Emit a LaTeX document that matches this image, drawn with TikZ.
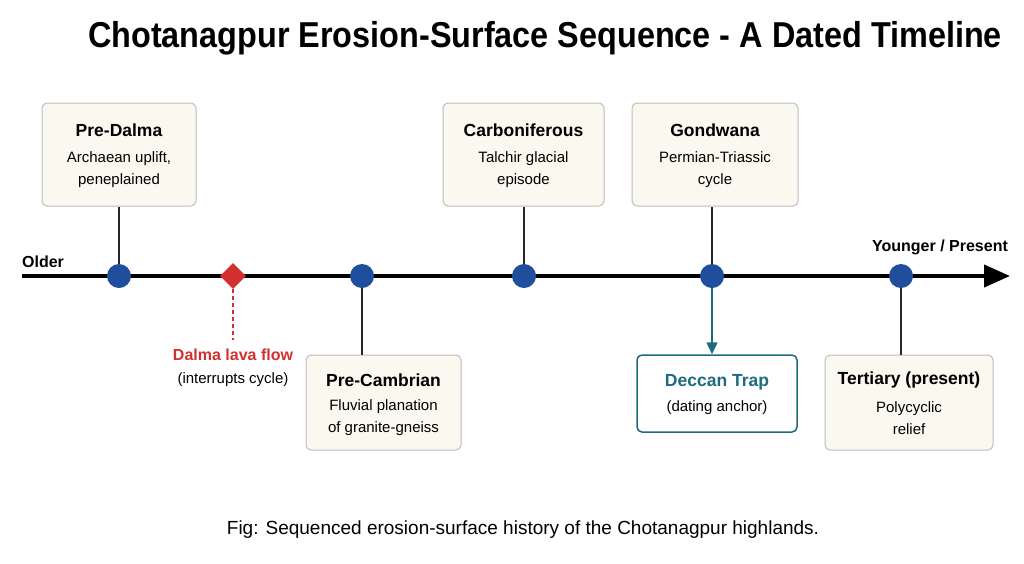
\documentclass[tikz,border=0pt]{standalone}
\usepackage{fontspec}
\setmainfont{Liberation Sans}
\usetikzlibrary{arrows.meta,shapes.geometric}
\definecolor{cream}{HTML}{FBF8EF}
\definecolor{bord}{HTML}{BDBDBD}
\definecolor{dotb}{HTML}{1F4E9C}
\definecolor{teal}{HTML}{1F6A80}
\definecolor{redd}{HTML}{D32F2F}
\begin{document}
\begin{tikzpicture}[x=1pt,y=-1pt,
 box/.style={draw=bord,line width=1pt,fill=cream,rounded corners=5pt,minimum height=103pt,align=center},
 dot/.style={circle,fill=dotb,minimum size=24pt,inner sep=0},
 conn/.style={line width=1.3pt,black!85},
 ttl/.style={font=\fontsize{17.5}{20}\selectfont\bfseries},
 bdy/.style={font=\fontsize{15}{22}\selectfont}]
\useasboundingbox (0,0) rectangle (1024,563);
\node at (545,38) {\scalebox{0.9}[1]{\fontsize{36}{40}\selectfont\bfseries Chotanagpur Erosion-Surface Sequence - A Dated Timeline}};
\coordinate (L) at (22,276); \coordinate (R) at (1010,276);
\draw[line width=4pt,-{Triangle[length=26pt,width=22pt]}] (L) -- (R);
\node[font=\fontsize{16}{18}\selectfont\bfseries] at (43,262) {Older};
\node[font=\fontsize{16}{18}\selectfont\bfseries] at (940,247) {Younger / Present};
% boxes
\node[box,minimum width=154pt] (b1) at (119,154.5) {};
\node[ttl] at (119,130) {Pre-Dalma};
\node[bdy,align=center] at (119,170) {Archaean uplift,\\peneplained};
\node[box,minimum width=161pt] (b3) at (523.5,154.5) {};
\node[ttl] at (523.5,130) {Carboniferous};
\node[bdy,align=center] at (523.5,170) {Talchir glacial\\episode};
\node[box,minimum width=166pt] (b4) at (715,154.5) {};
\node[ttl] at (715,130) {Gondwana};
\node[bdy,align=center] at (715,170) {Permian-Triassic\\cycle};
\node[box,minimum width=155pt,minimum height=95pt] (b2) at (383.5,402.5) {};
\node[ttl] at (383.5,380) {Pre-Cambrian};
\node[bdy,align=center] at (383.5,418) {Fluvial planation\\of granite-gneiss};
\node[box,minimum width=160pt,minimum height=77pt,draw=teal,fill=white,line width=1.5pt] (b5) at (717,393.5) {};
\node[ttl,text=teal] at (717,382) {Deccan Trap};
\node[bdy] at (717,408) {(dating anchor)};
\node[box,minimum width=168pt,minimum height=95pt] (b6) at (909,402.5) {};
\node[ttl] at (909,380) {Tertiary (present)};
\node[bdy,align=center] at (909,418) {Polycyclic\\relief};
% dots
\node[dot] (d1) at (119,276) {};
\node[dot] (d2) at (362,276) {};
\node[dot] (d3) at (524,276) {};
\node[dot] (d4) at (712,276) {};
\node[dot] (d6) at (901,276) {};
\node[diamond,fill=redd,minimum size=26pt,inner sep=0] (dd) at (233,276) {};
\draw[conn] (d1) -- (b1.south -| d1);
\draw[conn] (d3) -- (b3.south -| d3);
\draw[conn] (d4) -- (b4.south -| d4);
\draw[conn] (d2) -- (b2.north -| d2);
\draw[conn] (d6) -- (b6.north -| d6);
\draw[teal,line width=1.5pt,-{Triangle[length=12pt,width=11pt]}] (d4) -- (b5.north -| d4);
\coordinate (de) at (233,340);
\draw[redd,line width=1.3pt,dashed,dash pattern=on 4pt off 3pt] (dd) -- (de);
\node[font=\fontsize{16}{18}\selectfont\bfseries,text=redd] at (233,355) {Dalma lava flow};
\node[bdy] at (233,380) {(interrupts cycle)};
\node[font=\fontsize{19}{22}\selectfont] at (523,530) {Fig: Sequenced erosion-surface history of the Chotanagpur highlands.};
\end{tikzpicture}
\end{document}
